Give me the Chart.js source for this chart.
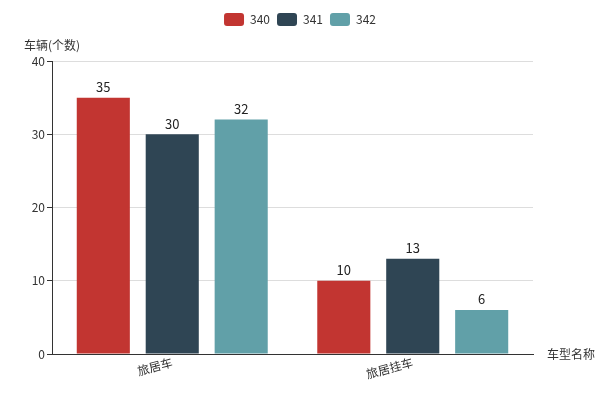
<!DOCTYPE html>
<html><head><meta charset="utf-8">
<script src="https://cdn.jsdelivr.net/npm/chart.js@4"></script>
<style>html,body{margin:0;padding:0;background:#fff}#w{width:600px;height:394px}</style>
</head><body><div id="w"><canvas id="c"></canvas></div>
<script>
const categories = ["旅居车", "旅居挂车"];
const seriesNames = ["340", "341", "342"];
const s340 = [35, 10];
const s341 = [30, 13];
const s342 = [32, 6];
const yTicks = [0, 10, 20, 30, 40];
const yAxisName = "车辆(个数)";
const xAxisName = "车型名称";
const colors = ["#c23531", "#2f4554", "#61a0a8"];
const FONT = "'Noto Sans CJK SC', 'Noto Sans', sans-serif";

const extras = {
  id: 'extras',
  afterInit(chart) {
    const lg = chart.legend;
    if (lg && !lg._patched) {
      const orig = lg.fit;
      lg.fit = function () { orig.apply(this, arguments); this.height += 25; };
      lg._patched = true;
    }
  },
  afterDatasetsDraw(chart) {
    const ctx = chart.ctx;
    ctx.save();
    ctx.font = "13px " + FONT;
    ctx.fillStyle = "#222";
    ctx.textAlign = "center";
    ctx.textBaseline = "bottom";
    chart.data.datasets.forEach((ds, i) => {
      const meta = chart.getDatasetMeta(i);
      meta.data.forEach((bar, j) => {
        ctx.fillText(String(ds.data[j]), bar.x, bar.y - 4);
      });
    });
    const ys = chart.scales.y, xs = chart.scales.x;
    ctx.font = "12px " + FONT;
    ctx.fillStyle = "#333";
    ctx.textBaseline = "bottom";
    ctx.fillText(yAxisName, ys.right, ys.top - 10);
    ctx.textAlign = "left";
    ctx.textBaseline = "middle";
    ctx.fillText(xAxisName, xs.right + 14, xs.top);
    ctx.restore();
  }
};

new Chart(document.getElementById('c'), {
  type: 'bar',
  data: {
    labels: categories,
    datasets: [
      {label: seriesNames[0], data: s340, backgroundColor: colors[0]},
      {label: seriesNames[1], data: s341, backgroundColor: colors[1]},
      {label: seriesNames[2], data: s342, backgroundColor: colors[2]}
    ]
  },
  options: {
    responsive: true,
    maintainAspectRatio: false,
    animation: false,
    categoryPercentage: 0.86,
    barPercentage: 0.77,
    layout: {padding: {top: 6, right: 0, left: 0, bottom: 0}},
    plugins: {
      legend: {
        position: 'top',
        labels: {
          boxWidth: 20, boxHeight: 13, useBorderRadius: true, borderRadius: 3,
          padding: 7, color: "#333", font: {size: 12, family: FONT}
        }
      },
      tooltip: {enabled: false}
    },
    scales: {
      x: {
        grid: {display: false, drawTicks: false},
        border: {color: "#333", width: 1},
        ticks: {minRotation: 15, maxRotation: 15, color: "#333", font: {size: 12, family: FONT}, padding: 1},
        afterFit(s) { s.height = 40; }
      },
      y: {
        min: 0, max: 40,
        afterBuildTicks(s) { s.ticks = yTicks.map(v => ({value: v})); },
        grid: {color: "#ddd", tickColor: "#333", tickLength: 5},
        border: {color: "#333", width: 1},
        ticks: {color: "#333", font: {size: 12, family: FONT}, padding: 2},
        afterFit(s) { s.width = 52; }
      },
      yR: {
        position: 'right',
        display: true,
        grid: {display: false, drawTicks: false},
        border: {display: false},
        ticks: {display: false},
        afterFit(s) { s.width = 67; }
      }
    }
  },
  plugins: [extras]
});
</script></body></html>
